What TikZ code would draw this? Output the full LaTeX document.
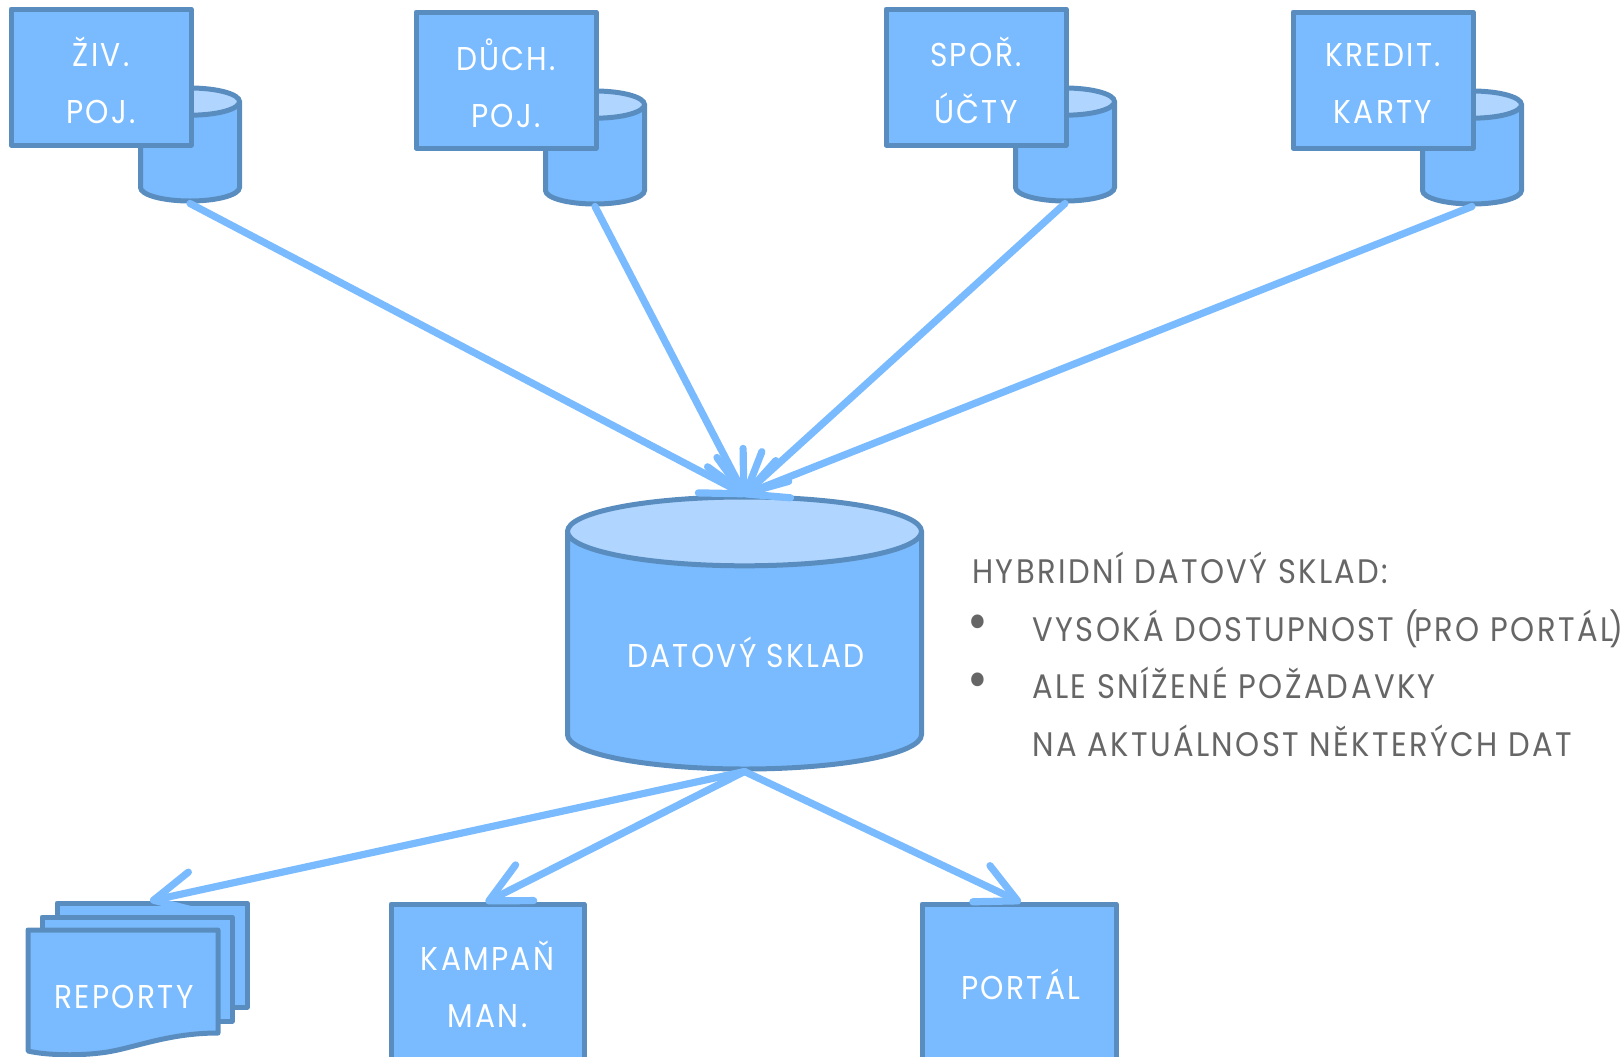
\documentclass[tikz,border=0pt]{standalone}
\usepackage{fontspec}
\usepackage{tikz}
\usetikzlibrary{arrows.meta,shapes.geometric}
\setmainfont[LetterSpace=7,FakeStretch=.9]{Poppins}

\definecolor{boxfill}{HTML}{7ABBFF}
\definecolor{boxline}{HTML}{5A8DBF}
\definecolor{cyltop}{HTML}{B0D5FF}
\definecolor{notegray}{HTML}{666666}

\tikzset{
  box/.style={draw=boxline, fill=boxfill, line width=2.5pt, line join=round, inner sep=0pt},
  boxtext/.style={text=white, inner sep=0pt, align=center, font=\fontsize{16.5}{28.5}\selectfont},
  can/.style={cylinder, anchor=shape center, shape border rotate=90, draw=boxline, line width=2.5pt,
    cylinder uses custom fill, cylinder body fill=boxfill, cylinder end fill=cyltop},
  flow/.style={->, draw=boxfill, line width=3.6pt, line cap=round, shorten >=-1pt},
  note/.style={anchor=base west, inner sep=0pt, text=notegray, font=\fontsize{17}{18}\selectfont},
  dot/.style={anchor=center, inner sep=0pt, text=notegray, font=\fontsize{28}{28}\selectfont}
}

\begin{document}
\begin{tikzpicture}[x=0.5pt, y=-0.5pt, >={Straight Barb[length=20pt, width=20pt, round]}]
\useasboundingbox (0,0) rectangle (1623,1056);

\foreach \m/\l/\x/\y in {ziv/{ŽIV.\\POJ.}/101/77, duch/{DŮCH.\\POJ.}/506/80, spor/{SPOŘ.\\ÚČTY}/976/77, kredit/{KREDIT.\\KARTY}/1383/80}
{
  \node [can, inner sep=10pt, minimum width=49.5pt, minimum height=56.5pt, shape aspect=.68] (\m-can) at (\x+89,\y+67.5) {};
  \node [box, minimum width=90pt, minimum height=68pt] (\m) at (\x,\y) {};
  \node [boxtext] (\m-text) at (\x,\y+3) {\l};
}

\node [can, inner sep=40pt, minimum width=177pt, minimum height=136pt, shape aspect=.43] (sklad) at (744.5,633) {};
\node [boxtext] (sklad-text) at (746,652) {DATOVÝ SKLAD};

\foreach \m in {ziv,duch,spor,kredit}
  \draw [flow] (\m-can.south) -- (sklad.north);

\foreach \m/\x/\y in {3/152/955, 2/137/969}
  \node [box, minimum width=95pt, minimum height=52pt] (report-\m) at (\x,\y) {};
\draw [draw=boxline, fill=boxfill, line width=2.5pt, line join=round]
  (28,930) -- (218,930) -- (218,1033) .. controls (165,1033) and (130,1050) .. (100,1053)
  .. controls (75,1056) and (45,1055) .. (28,1051) -- cycle;
\node [boxtext] (report) at (124,997) {REPORTY};

\node [box, minimum width=96.5pt, minimum height=90pt] (kampan) at (487.5,994) {};
\node [boxtext] (kampan-text) at (487.5,984) {KAMPAŇ\\MAN.};
\node [box, minimum width=97pt, minimum height=90pt] (portal) at (1019,994) {};
\node [boxtext] (portal-text) at (1021,984) {PORTÁL};

\foreach \m in {report-3,kampan,portal}
  \draw [flow] (sklad.south) -- (\m.north);

\node [note] (note-1) at (972,583) {HYBRIDNÍ DATOVÝ SKLAD:};
\node [note] (note-2) at (1032,641) {VYSOKÁ DOSTUPNOST (\kern-2pt PRO PORTÁL\kern-2pt)};
\node [note] (note-3) at (1032,698) {ALE SNÍŽENÉ POŽADAVKY};
\node [note] (note-4) at (1032,756) {NA AKTUÁLNOST NĚKTERÝCH DAT};
\node [dot] (bullet-1) at (978,628) {•};
\node [dot] (bullet-2) at (978,686) {•};
\end{tikzpicture}
\end{document}
